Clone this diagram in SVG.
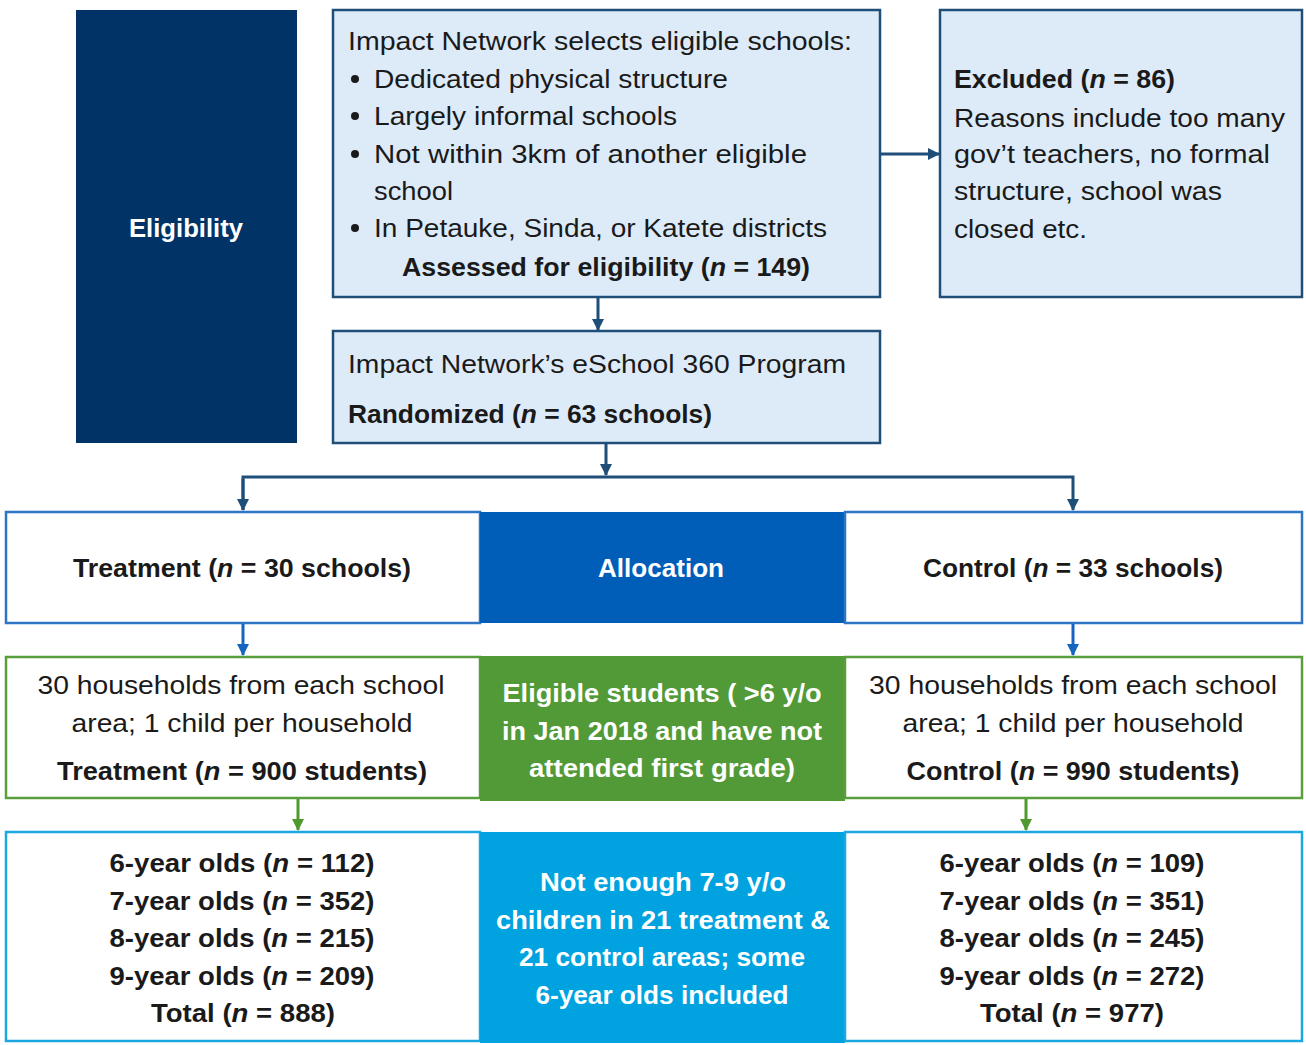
<svg xmlns="http://www.w3.org/2000/svg" width="1306" height="1045" viewBox="0 0 1306 1045">
<style>
text{font-family:"Liberation Sans",Arial,sans-serif;font-size:25px;fill:#1a1a1a}
.b{font-weight:bold}
.w{fill:#ffffff}
.c{text-anchor:middle}
.i{font-style:italic}
.lb{fill:#DDEBF9;stroke:#1F4E79;stroke-width:2.5}
.nav{stroke:#1F4E79;stroke-width:3;fill:none}
.blu{stroke:#1565C0;stroke-width:3;fill:none}
.grn{stroke:#4E9A2E;stroke-width:3;fill:none}
</style>
<defs>
<marker id="aN" markerWidth="12" markerHeight="12" refX="11" refY="6" orient="auto" markerUnits="userSpaceOnUse"><path d="M0,0L12,6L0,12z" fill="#1F4E79"/></marker>
<marker id="aB" markerWidth="12" markerHeight="12" refX="11" refY="6" orient="auto" markerUnits="userSpaceOnUse"><path d="M0,0L12,6L0,12z" fill="#1565C0"/></marker>
<marker id="aG" markerWidth="12" markerHeight="12" refX="11" refY="6" orient="auto" markerUnits="userSpaceOnUse"><path d="M0,0L12,6L0,12z" fill="#4E9A2E"/></marker>
</defs>
<rect width="1306" height="1045" fill="#ffffff"/>

<g id="eligibility">
<rect x="76" y="10" width="221" height="433" fill="#023366"/>
<text class="b w c" x="186" y="237" textLength="114" lengthAdjust="spacingAndGlyphs">Eligibility</text>
</g>

<g id="selects">
<rect class="lb" x="333" y="10" width="547" height="287"/>
<text x="348" y="50" textLength="504" lengthAdjust="spacingAndGlyphs">Impact Network selects eligible schools:</text>
<circle cx="355" cy="79" r="4" fill="#1a1a1a"/>
<text x="374" y="88" textLength="354" lengthAdjust="spacingAndGlyphs">Dedicated physical structure</text>
<circle cx="355" cy="116" r="4" fill="#1a1a1a"/>
<text x="374" y="125" textLength="303" lengthAdjust="spacingAndGlyphs">Largely informal schools</text>
<circle cx="355" cy="154" r="4" fill="#1a1a1a"/>
<text x="374" y="163" textLength="433" lengthAdjust="spacingAndGlyphs">Not within 3km of another eligible</text>
<text x="374" y="200" textLength="79" lengthAdjust="spacingAndGlyphs">school</text>
<circle cx="355" cy="228" r="4" fill="#1a1a1a"/>
<text x="374" y="237" textLength="453" lengthAdjust="spacingAndGlyphs">In Petauke, Sinda, or Katete districts</text>
<text class="b" x="402" y="276" textLength="408" lengthAdjust="spacingAndGlyphs">Assessed for eligibility (<tspan class="i">n</tspan> = 149)</text>
</g>

<g id="excluded">
<rect class="lb" x="940" y="10" width="362" height="287"/>
<text class="b" x="954" y="88" textLength="221" lengthAdjust="spacingAndGlyphs">Excluded (<tspan class="i">n</tspan> = 86)</text>
<text x="954" y="127" textLength="331" lengthAdjust="spacingAndGlyphs">Reasons include too many</text>
<text x="954" y="163" textLength="316" lengthAdjust="spacingAndGlyphs">gov’t teachers, no formal</text>
<text x="954" y="200" textLength="268" lengthAdjust="spacingAndGlyphs">structure, school was</text>
<text x="954" y="238" textLength="133" lengthAdjust="spacingAndGlyphs">closed etc.</text>
</g>

<g id="randomized">
<rect class="lb" x="333" y="331" width="547" height="112"/>
<text x="348" y="373" textLength="498" lengthAdjust="spacingAndGlyphs">Impact Network’s eSchool 360 Program</text>
<text class="b" x="348" y="423" textLength="364" lengthAdjust="spacingAndGlyphs">Randomized (<tspan class="i">n</tspan> = 63 schools)</text>
</g>

<g id="treatment-schools">
<rect x="6" y="512" width="474" height="111" fill="#ffffff" stroke="#2E75C6" stroke-width="2.5"/>
<text class="b c" x="242" y="577" textLength="338" lengthAdjust="spacingAndGlyphs">Treatment (<tspan class="i">n</tspan> = 30 schools)</text>
</g>
<g id="allocation">
<rect x="480" y="512" width="365" height="111" fill="#005EB8"/>
<text class="b w c" x="661" y="577" textLength="126" lengthAdjust="spacingAndGlyphs">Allocation</text>
</g>
<g id="control-schools">
<rect x="845" y="512" width="457" height="111" fill="#ffffff" stroke="#2E75C6" stroke-width="2.5"/>
<text class="b c" x="1073" y="577" textLength="300" lengthAdjust="spacingAndGlyphs">Control (<tspan class="i">n</tspan> = 33 schools)</text>
</g>

<g id="treatment-students">
<rect x="6" y="657" width="474" height="141" fill="#ffffff" stroke="#5A9E3C" stroke-width="2.5"/>
<text class="c" x="241" y="694" textLength="407" lengthAdjust="spacingAndGlyphs">30 households from each school</text>
<text class="c" x="242" y="732" textLength="341" lengthAdjust="spacingAndGlyphs">area; 1 child per household</text>
<text class="b c" x="242" y="780" textLength="370" lengthAdjust="spacingAndGlyphs">Treatment (<tspan class="i">n</tspan> = 900 students)</text>
</g>
<g id="eligible-students">
<rect x="480" y="656" width="365" height="145" fill="#529A38"/>
<text class="b w c" x="662" y="702" textLength="319" lengthAdjust="spacingAndGlyphs">Eligible students ( &gt;6 y/o</text>
<text class="b w c" x="662" y="740" textLength="320" lengthAdjust="spacingAndGlyphs">in Jan 2018 and have not</text>
<text class="b w c" x="662" y="777" textLength="266" lengthAdjust="spacingAndGlyphs">attended first grade)</text>
</g>
<g id="control-students">
<rect x="845" y="657" width="457" height="141" fill="#ffffff" stroke="#5A9E3C" stroke-width="2.5"/>
<text class="c" x="1073" y="694" textLength="408" lengthAdjust="spacingAndGlyphs">30 households from each school</text>
<text class="c" x="1073" y="732" textLength="341" lengthAdjust="spacingAndGlyphs">area; 1 child per household</text>
<text class="b c" x="1073" y="780" textLength="333" lengthAdjust="spacingAndGlyphs">Control (<tspan class="i">n</tspan> = 990 students)</text>
</g>

<g id="treatment-ages">
<rect x="6" y="832" width="474" height="209" fill="#ffffff" stroke="#1AA7E2" stroke-width="2.5"/>
<text class="b c" x="242" y="872" textLength="265" lengthAdjust="spacingAndGlyphs">6-year olds (<tspan class="i">n</tspan> = 112)</text>
<text class="b c" x="242" y="910" textLength="265" lengthAdjust="spacingAndGlyphs">7-year olds (<tspan class="i">n</tspan> = 352)</text>
<text class="b c" x="242" y="947" textLength="265" lengthAdjust="spacingAndGlyphs">8-year olds (<tspan class="i">n</tspan> = 215)</text>
<text class="b c" x="242" y="985" textLength="265" lengthAdjust="spacingAndGlyphs">9-year olds (<tspan class="i">n</tspan> = 209)</text>
<text class="b c" x="243" y="1022" textLength="184" lengthAdjust="spacingAndGlyphs">Total (<tspan class="i">n</tspan> = 888)</text>
</g>
<g id="note">
<rect x="480" y="832" width="365" height="211" fill="#00A3DF"/>
<text class="b w c" x="663" y="891" textLength="246" lengthAdjust="spacingAndGlyphs">Not enough 7-9 y/o</text>
<text class="b w c" x="663" y="929" textLength="334" lengthAdjust="spacingAndGlyphs">children in 21 treatment &amp;</text>
<text class="b w c" x="662" y="966" textLength="286" lengthAdjust="spacingAndGlyphs">21 control areas; some</text>
<text class="b w c" x="662" y="1004" textLength="253" lengthAdjust="spacingAndGlyphs">6-year olds included</text>
</g>
<g id="control-ages">
<rect x="845" y="832" width="457" height="209" fill="#ffffff" stroke="#1AA7E2" stroke-width="2.5"/>
<text class="b c" x="1072" y="872" textLength="265" lengthAdjust="spacingAndGlyphs">6-year olds (<tspan class="i">n</tspan> = 109)</text>
<text class="b c" x="1072" y="910" textLength="265" lengthAdjust="spacingAndGlyphs">7-year olds (<tspan class="i">n</tspan> = 351)</text>
<text class="b c" x="1072" y="947" textLength="265" lengthAdjust="spacingAndGlyphs">8-year olds (<tspan class="i">n</tspan> = 245)</text>
<text class="b c" x="1072" y="985" textLength="265" lengthAdjust="spacingAndGlyphs">9-year olds (<tspan class="i">n</tspan> = 272)</text>
<text class="b c" x="1072" y="1022" textLength="184" lengthAdjust="spacingAndGlyphs">Total (<tspan class="i">n</tspan> = 977)</text>
</g>

<g id="connectors">
<line class="nav" x1="598" y1="298" x2="598" y2="330" marker-end="url(#aN)"/>
<line class="nav" x1="881" y1="154" x2="939" y2="154" marker-end="url(#aN)"/>
<line class="nav" x1="606" y1="444" x2="606" y2="475" marker-end="url(#aN)"/>
<polyline class="nav" points="243,510 243,477 1073,477 1073,510" marker-end="url(#aN)"/>
<line class="nav" x1="243" y1="479" x2="243" y2="510" marker-end="url(#aN)"/>
<line class="blu" x1="243" y1="624" x2="243" y2="655" marker-end="url(#aB)"/>
<line class="blu" x1="1073" y1="624" x2="1073" y2="655" marker-end="url(#aB)"/>
<line class="grn" x1="298" y1="799" x2="298" y2="830" marker-end="url(#aG)"/>
<line class="grn" x1="1026" y1="799" x2="1026" y2="830" marker-end="url(#aG)"/>
</g>
</svg>
